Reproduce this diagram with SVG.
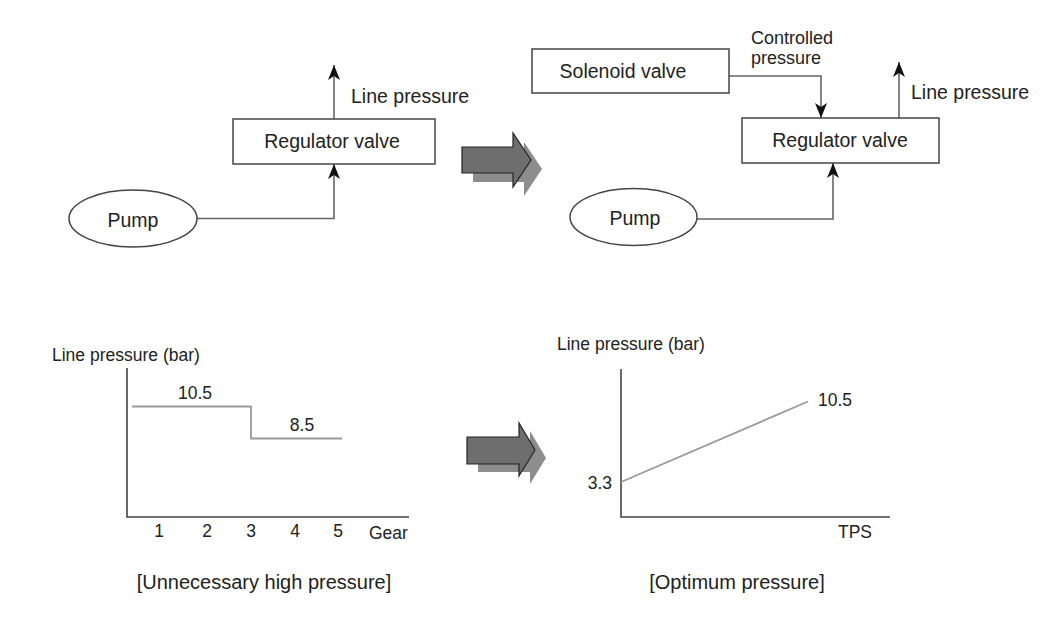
<svg xmlns="http://www.w3.org/2000/svg" width="1050" height="625" viewBox="0 0 1050 625">
<defs>
<marker id="tip" viewBox="0 0 15 12" markerWidth="15" markerHeight="12" refX="15" refY="6" orient="auto" markerUnits="userSpaceOnUse">
<path d="M0,0 L15,6 L0,12 L4,6 Z" fill="#111"/>
</marker>
</defs>
<style>
text{font-family:"Liberation Sans",Arial,Helvetica,sans-serif;fill:#222}
.box{fill:#fff;stroke:#444;stroke-width:1.5}
.ell{fill:#fff;stroke:#444;stroke-width:1.5}
.conn{fill:none;stroke:#666;stroke-width:1.6}
.axis{fill:none;stroke:#444;stroke-width:1.6}
.plot{fill:none;stroke:#999;stroke-width:1.8}
.lbl{font-size:19.5px}
.cp{font-size:18px}
.cl{font-size:17.5px}
.cap{font-size:20px}
.front{fill:#6e6e6e;stroke:#222;stroke-width:1.2}
.shadow{fill:#8d8d8d}
</style>
<rect width="1050" height="625" fill="#fff"/>

<g id="connectors">
<path class="conn" d="M334,119 L334,65" marker-end="url(#tip)"/>
<path class="conn" d="M197,218.5 L334,218.5 L334,164" marker-end="url(#tip)"/>
<path class="conn" d="M729,76 L821,76 L821,118" marker-end="url(#tip)"/>
<path class="conn" d="M899,118 L899,62" marker-end="url(#tip)"/>
<path class="conn" d="M697,219 L833,219 L833,163" marker-end="url(#tip)"/>
</g>

<g id="regulator-left">
<rect class="box" x="233" y="119" width="202" height="45"/>
<text class="lbl" x="332" y="148" text-anchor="middle">Regulator valve</text>
</g>
<g id="pump-left">
<ellipse class="ell" cx="133" cy="218.5" rx="64" ry="28.5"/>
<text class="lbl" x="133" y="227" text-anchor="middle">Pump</text>
</g>
<text class="lbl" x="351" y="103">Line pressure</text>

<g id="big-arrow-top">
<polygon class="shadow" points="473,156 524,156 524,142 542,169 524,196 524,182 473,182"/>
<polygon class="front" points="462,147 513,147 513,133 531,160 513,187 513,173 462,173"/>
</g>

<g id="solenoid">
<rect class="box" x="532" y="49" width="197" height="44"/>
<text class="lbl" x="623" y="78" text-anchor="middle">Solenoid valve</text>
</g>
<text class="cp" x="751" y="43.5">Controlled</text>
<text class="cp" x="751" y="63.5">pressure</text>
<g id="regulator-right">
<rect class="box" x="742" y="118" width="197" height="45"/>
<text class="lbl" x="840" y="147" text-anchor="middle">Regulator valve</text>
</g>
<text class="lbl" x="911" y="99">Line pressure</text>
<g id="pump-right">
<ellipse class="ell" cx="633.5" cy="217" rx="63.5" ry="28.5"/>
<text class="lbl" x="635" y="225" text-anchor="middle">Pump</text>
</g>

<g id="chart-left">
<text class="cl" x="52" y="361">Line pressure (bar)</text>
<path class="axis" d="M127,368 L127,517 L409,517"/>
<path class="plot" d="M132,406.5 L251,406.5 L251,438.5 L342,438.5"/>
<text class="cl" x="195" y="399" text-anchor="middle">10.5</text>
<text class="cl" x="302" y="431" text-anchor="middle">8.5</text>
<text class="cl" x="159" y="537" text-anchor="middle">1</text>
<text class="cl" x="207" y="537" text-anchor="middle">2</text>
<text class="cl" x="251" y="537" text-anchor="middle">3</text>
<text class="cl" x="295" y="537" text-anchor="middle">4</text>
<text class="cl" x="338" y="537" text-anchor="middle">5</text>
<text class="cl" x="369" y="539">Gear</text>
<text class="cap" x="264" y="589" text-anchor="middle">[Unnecessary high pressure]</text>
</g>

<g id="big-arrow-bottom">
<polygon class="shadow" points="478,445 530,445 530,431 546,458 530,484 530,472 478,472"/>
<polygon class="front" points="467,437 519,437 519,423 535,450 519,476 519,464 467,464"/>
</g>

<g id="chart-right">
<text class="cl" x="557" y="350">Line pressure (bar)</text>
<path class="axis" d="M621,369 L621,517 L890,517"/>
<path class="plot" d="M621,482 L808,401.5"/>
<text class="cl" x="818" y="406">10.5</text>
<text class="cl" x="612" y="489" text-anchor="end">3.3</text>
<text class="cl" x="838" y="538">TPS</text>
<text class="cap" x="737" y="589" text-anchor="middle">[Optimum pressure]</text>
</g>
</svg>
